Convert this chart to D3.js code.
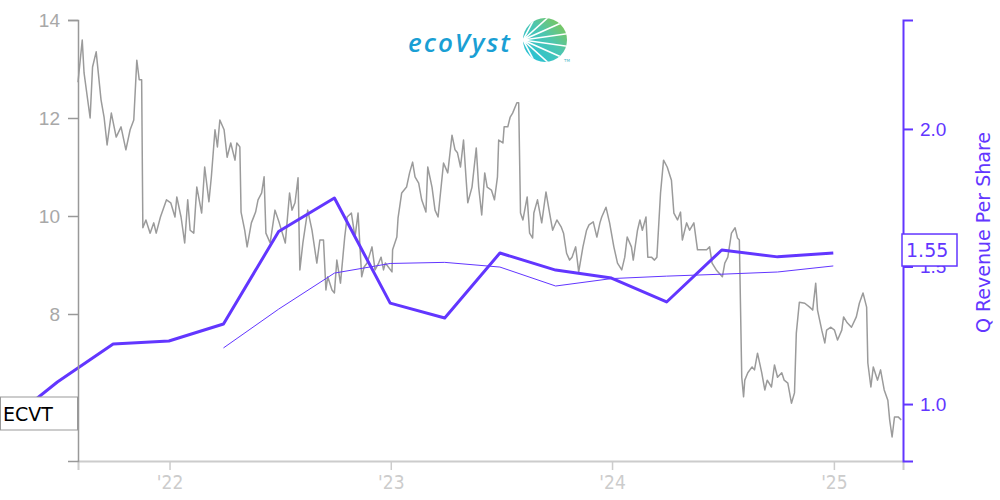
<!DOCTYPE html>
<html>
<head>
<meta charset="utf-8">
<script src="https://cdn.jsdelivr.net/npm/d3@7"></script>
<style>
  html, body { margin: 0; padding: 0; background: #fff; }
  svg { display: block; font-family: "DejaVu Sans", sans-serif; }
</style>
</head>
<body>
<svg id="chart" width="1000" height="500"></svg>
<script>
// ---------- DATA ----------
const ticker = "ECVT";
const lastRevenueLabel = "1.55";
const rightAxisTitle = "Q Revenue Per Share";

const priceDates = [
"2021-08-03","2021-08-10","2021-08-13","2021-08-23","2021-08-27","2021-09-02","2021-09-10","2021-09-15","2021-09-20","2021-09-27",
"2021-10-05","2021-10-13","2021-10-21","2021-10-28","2021-11-03","2021-11-08","2021-11-12","2021-11-16","2021-11-18","2021-11-23",
"2021-11-30","2021-12-06","2021-12-10","2021-12-17","2021-12-27","2022-01-03","2022-01-10","2022-01-13","2022-01-20","2022-01-26",
"2022-01-31","2022-02-04","2022-02-10","2022-02-15","2022-02-23","2022-02-28","2022-03-07","2022-03-11","2022-03-17","2022-03-21",
"2022-03-25","2022-04-01","2022-04-06","2022-04-12","2022-04-19","2022-04-22","2022-04-27","2022-04-29","2022-05-05","2022-05-09",
"2022-05-16","2022-05-23","2022-05-27","2022-06-02","2022-06-06","2022-06-09","2022-06-16","2022-06-24","2022-07-01","2022-07-11",
"2022-07-18","2022-07-22","2022-07-27","2022-08-01","2022-08-04","2022-08-09","2022-08-17","2022-08-24","2022-09-01","2022-09-06",
"2022-09-12","2022-09-16","2022-09-19","2022-09-26","2022-09-30","2022-10-04","2022-10-10","2022-10-17","2022-10-21","2022-10-28",
"2022-11-03","2022-11-08","2022-11-14","2022-11-18","2022-11-23","2022-12-01","2022-12-06","2022-12-12","2022-12-16","2022-12-20",
"2022-12-23","2023-01-03","2023-01-04","2023-01-11","2023-01-13","2023-01-19","2023-01-27","2023-02-01","2023-02-06","2023-02-10",
"2023-02-16","2023-02-21","2023-02-28","2023-03-03","2023-03-10","2023-03-15","2023-03-20","2023-03-24","2023-03-29","2023-04-05",
"2023-04-12","2023-04-17","2023-04-21","2023-04-26","2023-05-01","2023-05-05","2023-05-08","2023-05-15","2023-05-22","2023-05-26",
"2023-05-31","2023-06-05","2023-06-09","2023-06-16","2023-06-21","2023-06-26","2023-06-28","2023-07-05","2023-07-07","2023-07-13",
"2023-07-17","2023-07-21","2023-07-28","2023-07-31","2023-08-03","2023-08-07","2023-08-14","2023-08-18","2023-08-23","2023-08-25",
"2023-08-31","2023-09-07","2023-09-14","2023-09-20","2023-09-25","2023-10-02","2023-10-09","2023-10-13","2023-10-18","2023-10-23",
"2023-10-27","2023-11-02","2023-11-07","2023-11-14","2023-11-20","2023-11-24","2023-12-01","2023-12-07","2023-12-12","2023-12-15",
"2023-12-22","2023-12-28","2024-01-04","2024-01-10","2024-01-17","2024-01-22","2024-01-26","2024-02-02","2024-02-05","2024-02-12",
"2024-02-16","2024-02-20","2024-02-26","2024-02-29","2024-03-06","2024-03-11","2024-03-15","2024-03-21","2024-03-26","2024-04-01",
"2024-04-08","2024-04-12","2024-04-18","2024-04-23","2024-04-26","2024-05-03","2024-05-08","2024-05-15","2024-05-21","2024-05-29",
"2024-06-05","2024-06-10","2024-06-14","2024-06-21","2024-07-01","2024-07-05","2024-07-10","2024-07-16","2024-07-22","2024-07-26",
"2024-07-29","2024-08-02","2024-08-05","2024-08-07","2024-08-12","2024-08-19","2024-08-23","2024-08-28","2024-09-04","2024-09-09",
"2024-09-13","2024-09-20","2024-09-25","2024-09-30","2024-10-07","2024-10-11","2024-10-17","2024-10-23","2024-10-28","2024-10-31",
"2024-11-05","2024-11-14","2024-11-22","2024-11-27","2024-12-02","2024-12-05","2024-12-12","2024-12-17","2024-12-20","2024-12-27",
"2025-01-02","2025-01-07","2025-01-14","2025-01-17","2025-01-23","2025-01-30","2025-02-07","2025-02-12","2025-02-18","2025-02-24",
"2025-02-26","2025-03-03","2025-03-07","2025-03-14","2025-03-19","2025-03-25","2025-03-31","2025-04-03","2025-04-07","2025-04-11",
"2025-04-17","2025-04-22"
];
const priceValues = [
12.73,13.59,12.92,12.00,13.04,13.35,12.37,12.02,11.45,12.10,
11.61,11.82,11.35,11.76,11.96,13.18,12.78,12.78,9.76,9.92,
9.65,9.86,9.65,9.98,10.33,10.27,9.98,10.39,9.98,9.45,
10.33,9.71,9.65,10.59,10.06,11.00,10.29,10.80,11.76,11.41,
11.96,11.76,11.20,11.49,11.14,11.49,11.41,10.08,9.71,9.37,
9.86,10.08,10.33,10.47,10.80,9.65,9.45,10.12,9.86,9.45,
10.47,10.12,10.27,10.78,8.90,9.45,10.12,9.71,9.04,9.51,
9.51,8.49,8.76,8.49,8.43,9.10,8.63,9.57,9.98,10.06,
9.57,10.06,8.76,8.96,9.04,9.37,8.90,9.04,9.16,8.90,
9.04,8.86,9.31,9.57,9.96,10.47,10.59,10.88,11.10,10.80,
10.67,10.33,10.08,11.00,10.59,10.12,9.98,10.47,11.08,10.88,
11.65,11.35,11.29,11.00,11.55,10.80,10.27,10.59,11.39,10.59,
10.02,10.88,10.59,10.53,10.33,10.80,11.55,11.49,11.82,11.82,
12.02,12.10,12.31,12.31,10.06,9.92,10.39,9.65,9.55,10.06,
10.33,9.86,10.49,10.06,9.71,9.92,9.78,9.65,9.24,9.10,
9.16,9.37,8.86,9.37,9.71,9.82,9.88,9.57,9.86,9.98,
10.18,9.86,9.37,9.04,8.90,9.16,9.57,9.37,9.10,9.71,
9.92,9.71,9.98,9.16,9.16,9.10,9.16,10.47,11.14,11.00,
10.73,10.06,9.92,10.08,9.51,9.86,9.71,9.86,9.31,9.31,
9.31,9.37,9.04,8.90,8.76,9.04,9.16,9.65,9.76,9.55,
9.51,6.71,6.31,6.65,6.80,6.92,6.86,7.20,6.80,6.45,
6.65,6.51,6.96,6.71,6.80,6.65,6.59,6.18,6.39,7.61,
8.24,8.22,8.14,8.08,8.63,8.08,7.67,7.41,7.67,7.73,
7.67,7.47,7.67,7.94,7.82,7.73,7.94,8.22,8.43,8.14,
7.00,6.51,6.92,6.65,6.86,6.45,6.24,5.84,5.49,5.90,
5.90,5.84
];

const quarterDates = [
"2021-03-31","2021-06-30","2021-09-30","2021-12-31","2022-03-31","2022-06-30","2022-09-30","2022-12-31",
"2023-03-31","2023-06-30","2023-09-30","2023-12-31","2024-03-31","2024-06-30","2024-09-30","2024-12-31"
];
const quarterRevenuePerShare = [
0.92,1.08,1.218,1.229,1.291,1.627,1.749,1.367,
1.313,1.549,1.487,1.458,1.371,1.560,1.535,1.549
];
const avgDates = [
"2022-03-31","2022-06-30","2022-09-30","2022-12-31","2023-03-31","2023-06-30",
"2023-09-30","2023-12-31","2024-03-31","2024-06-30","2024-09-30","2024-12-31"
];
const avgRevenuePerShare = [
1.204,1.345,1.476,1.511,1.515,1.498,
1.429,1.456,1.465,1.472,1.480,1.502
];

const leftTicks = [8, 10, 12, 14];
const rightTicks = [1.0, 1.5, 2.0];
const xTickDates = ["2022-01-01","2023-01-01","2024-01-01","2025-01-01"];
const xTickLabels = ["'22","'23","'24","'25"];
const xDomain = ["2021-08-03","2025-04-25"];
const leftDomain = [5, 14];
const rightDomain = [0.793, 2.396];

// ---------- STYLE ----------
const PURPLE = "#6236ff";
const GREY_LINE = "#9b9b9b";
const parse = d3.timeParse("%Y-%m-%d");

const svg = d3.select("#chart");
const L = 78, R = 903, T = 20, B = 461;

const x = d3.scaleTime().domain(xDomain.map(parse)).range([L, R]);
const yL = d3.scaleLinear().domain(leftDomain).range([B, T]);
const yR = d3.scaleLinear().domain(rightDomain).range([B, T]);

// ---------- LOGO ----------
const logo = svg.append("g");
const defs = svg.append("defs");
const grad = defs.append("linearGradient").attr("id", "lg")
  .attr("x1", "0%").attr("y1", "100%").attr("x2", "100%").attr("y2", "0%");
grad.append("stop").attr("offset", "0%").attr("stop-color", "#1fc0e0");
grad.append("stop").attr("offset", "55%").attr("stop-color", "#4cc6b0");
grad.append("stop").attr("offset", "100%").attr("stop-color", "#8cc640");
const LCX = 545, LCY = 40, LR = 22;
defs.append("clipPath").attr("id", "lc").append("circle").attr("cx", LCX).attr("cy", LCY).attr("r", LR);
logo.append("text").attr("x", 408).attr("y", 52)
  .attr("font-family", "'Open Sans', 'DejaVu Sans', sans-serif")
  .attr("font-style", "italic").attr("font-weight", 600).attr("font-size", 26)
  .attr("fill", "#1a9fd4").attr("letter-spacing", 2)
  .text("ecoVyst");
logo.append("circle").attr("cx", LCX).attr("cy", LCY).attr("r", LR).attr("fill", "url(#lg)");
const rays = logo.append("g").attr("clip-path", "url(#lc)");
[-62, -42, -24, -8, 8, 24, 42, 62].forEach(a => {
  const rad = a * Math.PI / 180;
  rays.append("line")
    .attr("x1", LCX - LR).attr("y1", LCY)
    .attr("x2", LCX - LR + 60 * Math.cos(rad)).attr("y2", LCY + 60 * Math.sin(rad))
    .attr("stroke", "#fff").attr("stroke-width", 1.6);
});
logo.append("text").attr("x", 564).attr("y", 62).attr("font-size", 4).attr("fill", "#4cb8c8").text("TM");

// ---------- LINES ----------
const priceData = priceDates.map((d, i) => ({ date: parse(d), v: priceValues[i] }));
svg.append("path").datum(priceData)
  .attr("fill", "none").attr("stroke", GREY_LINE).attr("stroke-width", 1.5)
  .attr("stroke-linejoin", "round")
  .attr("d", d3.line().x(d => x(d.date)).y(d => yL(d.v)));

const avgData = avgDates.map((d, i) => ({ date: parse(d), v: avgRevenuePerShare[i] }));
svg.append("path").datum(avgData)
  .attr("fill", "none").attr("stroke", PURPLE).attr("stroke-width", 1)
  .attr("d", d3.line().x(d => x(d.date)).y(d => yR(d.v)));

const qData = quarterDates.map((d, i) => ({ date: parse(d), v: quarterRevenuePerShare[i] }));
svg.append("path").datum(qData)
  .attr("fill", "none").attr("stroke", PURPLE).attr("stroke-width", 3)
  .attr("stroke-linejoin", "round")
  .attr("d", d3.line().x(d => x(d.date)).y(d => yR(d.v)));

// ---------- AXES ----------
const gx = svg.append("g").attr("transform", `translate(0,${B})`)
  .call(d3.axisBottom(x).tickValues(xTickDates.map(parse))
    .tickFormat((d, i) => xTickLabels[i]).tickSize(9).tickSizeOuter(9).tickPadding(6));
gx.select(".domain").attr("stroke", "#cccccc").attr("stroke-width", 2);
gx.selectAll(".tick line").attr("stroke", "#cccccc").attr("stroke-width", 1.5);
gx.selectAll(".tick text").attr("fill", "#cccccc").attr("font-size", 19)
  .attr("font-family", "'DejaVu Sans Condensed','DejaVu Sans',sans-serif");

const gl = svg.append("g").attr("transform", `translate(${L},0)`)
  .call(d3.axisLeft(yL).tickValues(leftTicks).tickSize(10).tickSizeOuter(10).tickPadding(8));
gl.select(".domain").attr("stroke", "#999999").attr("stroke-width", 1.5);
gl.selectAll(".tick line").attr("stroke", "#999999").attr("stroke-width", 1.5);
gl.selectAll(".tick text").attr("fill", "#a8a8a8").attr("font-size", 19);

const gr = svg.append("g").attr("transform", `translate(${R},0)`)
  .call(d3.axisRight(yR).tickValues(rightTicks).tickFormat(d3.format(".1f"))
    .tickSize(10).tickSizeOuter(10).tickPadding(7));
gr.select(".domain").attr("stroke", PURPLE).attr("stroke-width", 2);
gr.selectAll(".tick line").attr("stroke", PURPLE).attr("stroke-width", 2);
gr.selectAll(".tick text").attr("fill", PURPLE).attr("font-size", 19);

svg.append("text")
  .attr("transform", `translate(990,${(T + B) / 2 - 8}) rotate(-90)`)
  .attr("text-anchor", "middle").attr("font-size", 19).attr("fill", PURPLE)
  .text(rightAxisTitle);

// ---------- LABEL BOXES ----------
const lastQ = qData[qData.length - 1];
const lbY = yR(lastQ.v) - 3;
const lb = svg.append("g");
lb.append("rect").attr("x", 902).attr("y", lbY - 16).attr("width", 55).attr("height", 32)
  .attr("fill", "#fff").attr("stroke", PURPLE).attr("stroke-width", 1.5);
lb.append("text").attr("x", 906).attr("y", lbY + 7).attr("font-size", 19).attr("fill", PURPLE)
  .text(lastRevenueLabel);

const tb = svg.append("g");
tb.append("rect").attr("x", 0.5).attr("y", 397).attr("width", 77).attr("height", 33)
  .attr("fill", "#fff").attr("stroke", "#999").attr("stroke-width", 1);
tb.append("text").attr("x", 3).attr("y", 421).attr("font-size", 19).attr("fill", "#000")
  .text(ticker);
</script>
</body>
</html>
